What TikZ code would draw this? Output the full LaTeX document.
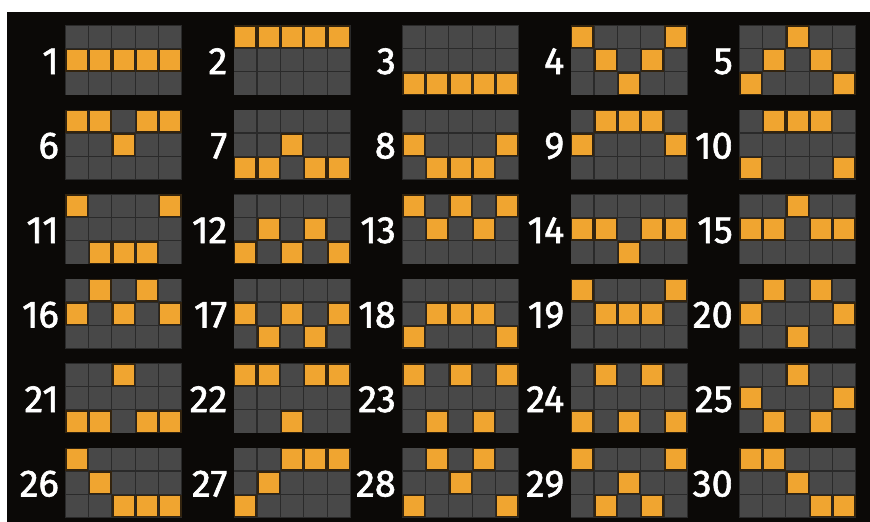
\documentclass[tikz,border=0pt]{standalone}
\usepackage{fontspec}
\setmainfont{Fira Sans}
\newfontfamily\numfont{Fira Sans}[FakeBold=1.6]
\definecolor{bg}{HTML}{0B0907}
\definecolor{cellgray}{HTML}{484848}
\definecolor{gridline}{HTML}{2A2A2A}
\definecolor{gold}{HTML}{F0A530}
\definecolor{goldedge}{HTML}{33240F}
\tikzset{
  numlabel/.style={anchor=base east, inner sep=0pt, text=white, font=\numfont\fontsize{38}{40}\selectfont},
  cellbox/.style={fill=cellgray},
  litbox/.style={fill=gold},
}
\begin{document}
\begin{tikzpicture}[x=1pt,y=-1pt]
\useasboundingbox (0,0) rectangle (870,522);
\fill[white] (0,0) rectangle (870,522);
\fill[bg] (7,12) rectangle (870,522);
\def\cs{23.4}
\foreach \lbl/\pat [count=\k from 0] in {
 1/{1,1,1,1,1}, 2/{0,0,0,0,0}, 3/{2,2,2,2,2}, 4/{0,1,2,1,0}, 5/{2,1,0,1,2},
 6/{0,0,1,0,0}, 7/{2,2,1,2,2}, 8/{1,2,2,2,1}, 9/{1,0,0,0,1}, 10/{2,0,0,0,2},
 11/{0,2,2,2,0}, 12/{2,1,2,1,2}, 13/{0,1,0,1,0}, 14/{1,1,2,1,1}, 15/{1,1,0,1,1},
 16/{1,0,1,0,1}, 17/{1,2,1,2,1}, 18/{2,1,1,1,2}, 19/{0,1,1,1,0}, 20/{1,0,2,0,1},
 21/{2,2,0,2,2}, 22/{0,0,2,0,0}, 23/{0,2,0,2,0}, 24/{2,0,2,0,2}, 25/{1,2,0,2,1},
 26/{0,1,2,2,2}, 27/{2,1,0,0,0}, 28/{2,0,1,0,2}, 29/{0,2,1,2,0}, 30/{0,0,1,2,2}} {
  \pgfmathtruncatemacro\ci{mod(\k,5)}
  \pgfmathtruncatemacro\rj{div(\k,5)}
  \pgfmathsetmacro\gx{65+168.5*\ci}
  \pgfmathsetmacro\gy{25+84.5*\rj}
  \fill[gridline] (\gx,\gy) rectangle ++(117,70.2);
  \foreach \cc in {0,...,4} {
    \foreach \rr in {0,1,2} {
      \fill[cellbox] (\gx+\cc*\cs+0.6,\gy+\rr*\cs+0.6) rectangle ++(\cs-1.2,\cs-1.2);
    }
  }
  \foreach \rr [count=\cc from 0] in \pat {
    \fill[goldedge] (\gx+\cc*\cs+0.3,\gy+\rr*\cs+0.3) rectangle ++(\cs-0.6,\cs-0.6);
    \fill[litbox] (\gx+\cc*\cs+1.7,\gy+\rr*\cs+1.7) rectangle ++(\cs-3.4,\cs-3.4);
  }
  \node[numlabel] (n\lbl) at (\gx-6,\gy+49) {\lbl};
}
\end{tikzpicture}
\end{document}
